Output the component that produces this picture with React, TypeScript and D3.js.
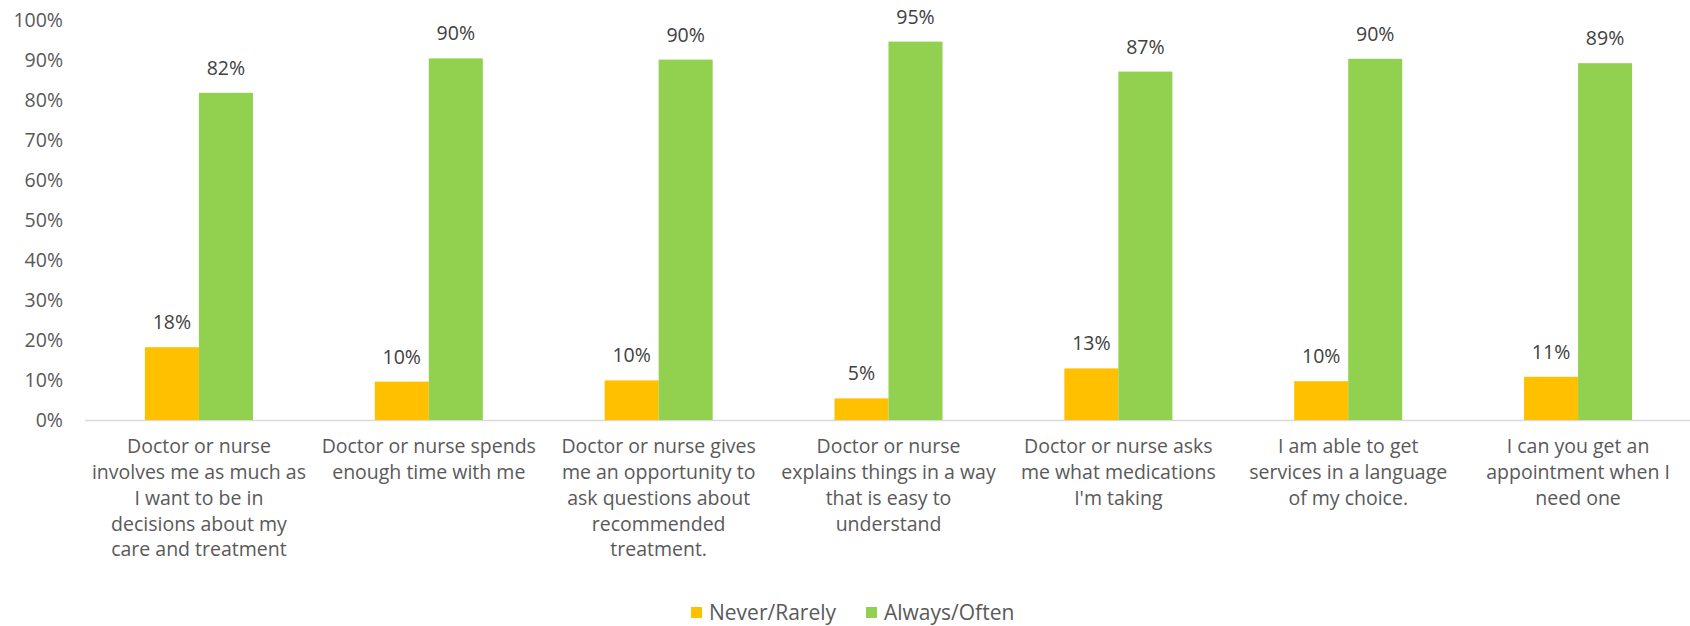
import React, { useEffect, useRef } from "react";
import * as d3 from "d3";

const categories: string[][] = [
  ["Doctor or nurse", "involves me as much as", "I want to be in", "decisions about my", "care and treatment"],
  ["Doctor or nurse spends", "enough time with me"],
  ["Doctor or nurse gives", "me an opportunity to", "ask questions about", "recommended", "treatment."],
  ["Doctor or nurse", "explains things in a way", "that is easy to", "understand"],
  ["Doctor or nurse asks", "me what medications", "I'm taking"],
  ["I am able to get", "services in a language", "of my choice."],
  ["I can you get an", "appointment when I", "need one"],
];
const neverRarely = [18.2, 9.6, 9.9, 5.4, 12.9, 9.7, 10.8];
const alwaysOften = [81.8, 90.4, 90.1, 94.6, 87.1, 90.3, 89.2];
const seriesNames = ["Never/Rarely", "Always/Often"];
const seriesColors = ["#ffc000", "#92d050"];
const yTicks = [0, 10, 20, 30, 40, 50, 60, 70, 80, 90, 100];

export default function App() {
  const ref = useRef<SVGSVGElement>(null);
  useEffect(() => {
    const svg = d3.select(ref.current);
    svg.selectAll("*").remove();
    const W = 1690;
    const left = 84, right = 1693, top = 20, bottom = 420;
    const font = "'Open Sans', sans-serif";
    const textColor = "#595959";
    const idx = categories.map((_, i) => i);
    const x0 = d3.scaleBand<number>().domain(idx).range([left, right]).paddingInner(0.53).paddingOuter(0.265);
    const x1 = d3.scaleBand<number>().domain([0, 1]).range([0, x0.bandwidth()]);
    const y = d3.scaleLinear().domain([0, 100]).range([bottom, top]);

    svg.append("g").selectAll("text").data(yTicks).join("text")
      .attr("x", 63).attr("y", d => y(d)).attr("dy", "0.35em")
      .attr("text-anchor", "end").attr("font-family", font).attr("font-size", 19.5)
      .attr("fill", textColor).text(d => `${d}%`);

    svg.append("line").attr("x1", left + 1).attr("x2", W).attr("y1", y(0) + 0.5).attr("y2", y(0) + 0.5)
      .attr("stroke", "#d9d9d9").attr("stroke-width", 1.5);

    const series = [neverRarely, alwaysOften];
    series.forEach((vals, s) => {
      const g = svg.append("g");
      g.selectAll("rect").data(vals).join("rect")
        .attr("x", (_, i) => (x0(i) as number) + (x1(s) as number))
        .attr("width", x1.bandwidth())
        .attr("y", d => y(d)).attr("height", d => y(0) - y(d))
        .attr("fill", seriesColors[s]);
      g.selectAll("text").data(vals).join("text")
        .attr("x", (_, i) => (x0(i) as number) + (x1(s) as number) + x1.bandwidth() / 2)
        .attr("y", d => y(d) - 18)
        .attr("text-anchor", "middle").attr("font-family", font).attr("font-size", 19.5)
        .attr("fill", "#404040").text(d => `${Math.round(d)}%`);
    });

    const cg = svg.append("g");
    categories.forEach((lines, i) => {
      const cx = (x0(i) as number) + x0.bandwidth() / 2;
      const t = cg.append("text").attr("text-anchor", "middle").attr("font-family", font)
        .attr("font-size", 19.5).attr("fill", textColor);
      lines.forEach((ln, j) => {
        t.append("tspan").attr("x", cx).attr("y", 446 + j * 25.9).attr("dy", "0.35em").text(ln);
      });
    });

    const legendX = [691, 866];
    seriesNames.forEach((name, s) => {
      svg.append("rect").attr("x", legendX[s]).attr("y", 607).attr("width", 11).attr("height", 11)
        .attr("fill", seriesColors[s]);
      svg.append("text").attr("x", legendX[s] + 18).attr("y", 612.5).attr("dy", "0.35em")
        .attr("font-family", font).attr("font-size", 21).attr("fill", textColor).text(name);
    });
  }, []);
  return (
    <svg ref={ref} width={1690} height={626}
      style={{ position: "absolute", left: 0, top: 0, background: "#fff" }} />
  );
}
